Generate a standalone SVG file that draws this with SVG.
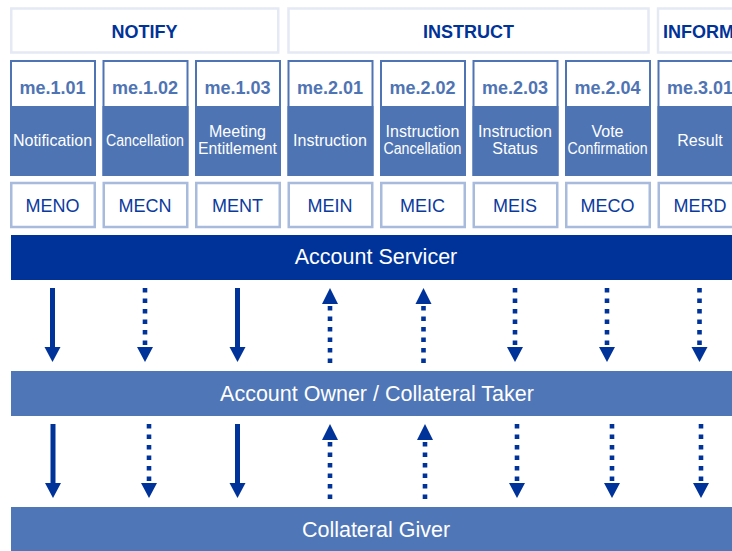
<svg xmlns="http://www.w3.org/2000/svg" width="732" height="551" viewBox="0 0 732 551">
<style>
.hdr{fill:#fff;stroke:#e4e9f4;stroke-width:2.5}
.hdrt{font-family:"Liberation Sans",Arial,sans-serif;font-size:18px;font-weight:bold;fill:#003399;text-anchor:middle}
.mebox{fill:#fff;stroke:#4f74b4;stroke-width:2}
.body{fill:#4e74b4}
.met{font-family:"Liberation Sans",Arial,sans-serif;font-size:18px;font-weight:bold;fill:#4f74b4;text-anchor:middle}
.bt{font-family:"Liberation Sans",Arial,sans-serif;font-size:16px;fill:#fff;text-anchor:middle}
.code{fill:#fff;stroke:#a8bbdc;stroke-width:2.5}
.ct{font-family:"Liberation Sans",Arial,sans-serif;font-size:18px;fill:#0a3a9e;text-anchor:middle}
.bar1{fill:#00339a}
.bar2{fill:#4f76b6}
.bart{font-family:"Liberation Sans",Arial,sans-serif;font-size:21.5px;fill:#fff;text-anchor:middle}
.sl{stroke:#003399;stroke-width:5}
.dl{stroke:#003399;stroke-width:4.6;stroke-dasharray:4.6 5.9}
.ah{fill:#003399}
</style>
<defs>
<g id="ds"><line class="sl" x1="0" y1="0" x2="0" y2="60"/><polygon class="ah" points="-8,59 8,59 0,74"/></g>
<g id="dd"><line class="dl" x1="0" y1="0" x2="0" y2="60"/><polygon class="ah" points="-8,59 8,59 0,74"/></g>
<g id="du"><polygon class="ah" points="-8,16 8,16 0,0"/><line class="dl" x1="0" y1="75" x2="0" y2="16"/></g>
</defs>

<g id="hdr-notify"><rect class="hdr" x="11.25" y="8.5" width="267" height="44"/><text class="hdrt" x="144.5" y="37.5">NOTIFY</text></g>
<g id="hdr-instruct"><rect class="hdr" x="288.5" y="8.5" width="360" height="44"/><text class="hdrt" x="468.5" y="37.5">INSTRUCT</text></g>
<g id="hdr-inform"><rect class="hdr" x="658" y="8.5" width="90" height="44"/><text class="hdrt" x="663" y="37.5" text-anchor="start" style="text-anchor:start">INFORM</text></g>

<g id="col-me101"><rect class="mebox" x="11" y="61" width="84" height="114"/><rect class="body" x="10" y="106" width="86" height="70"/><text class="met" x="52.5" y="94.3">me.1.01</text><text class="bt" x="52.5" y="146">Notification</text><rect class="code" x="11.25" y="183" width="83.5" height="44"/><text class="ct" x="52.5" y="211.5">MENO</text></g>
<g id="col-me102"><rect class="mebox" x="103.5" y="61" width="84" height="114"/><rect class="body" x="102.5" y="106" width="86" height="70"/><text class="met" x="145" y="94.3">me.1.02</text><text class="bt" x="145" y="146" textLength="78" lengthAdjust="spacingAndGlyphs">Cancellation</text><rect class="code" x="103.75" y="183" width="83.5" height="44"/><text class="ct" x="145" y="211.5">MECN</text></g>
<g id="col-me103"><rect class="mebox" x="196" y="61" width="84" height="114"/><rect class="body" x="195" y="106" width="86" height="70"/><text class="met" x="237.5" y="94.3">me.1.03</text><text class="bt" x="237.5" y="137">Meeting</text><text class="bt" x="237.5" y="154" textLength="79" lengthAdjust="spacingAndGlyphs">Entitlement</text><rect class="code" x="196.25" y="183" width="83.5" height="44"/><text class="ct" x="237.5" y="211.5">MENT</text></g>
<g id="col-me201"><rect class="mebox" x="288.5" y="61" width="84" height="114"/><rect class="body" x="287.5" y="106" width="86" height="70"/><text class="met" x="330" y="94.3">me.2.01</text><text class="bt" x="330" y="146">Instruction</text><rect class="code" x="288.75" y="183" width="83.5" height="44"/><text class="ct" x="330" y="211.5">MEIN</text></g>
<g id="col-me202"><rect class="mebox" x="381" y="61" width="84" height="114"/><rect class="body" x="380" y="106" width="86" height="70"/><text class="met" x="422.5" y="94.3">me.2.02</text><text class="bt" x="422.5" y="137">Instruction</text><text class="bt" x="422.5" y="154" textLength="78" lengthAdjust="spacingAndGlyphs">Cancellation</text><rect class="code" x="381.25" y="183" width="83.5" height="44"/><text class="ct" x="422.5" y="211.5">MEIC</text></g>
<g id="col-me203"><rect class="mebox" x="473.5" y="61" width="84" height="114"/><rect class="body" x="472.5" y="106" width="86" height="70"/><text class="met" x="515" y="94.3">me.2.03</text><text class="bt" x="515" y="137">Instruction</text><text class="bt" x="515" y="154">Status</text><rect class="code" x="473.75" y="183" width="83.5" height="44"/><text class="ct" x="515" y="211.5">MEIS</text></g>
<g id="col-me204"><rect class="mebox" x="566" y="61" width="84" height="114"/><rect class="body" x="565" y="106" width="86" height="70"/><text class="met" x="607.5" y="94.3">me.2.04</text><text class="bt" x="607.5" y="137">Vote</text><text class="bt" x="607.5" y="154" textLength="80" lengthAdjust="spacingAndGlyphs">Confirmation</text><rect class="code" x="566.25" y="183" width="83.5" height="44"/><text class="ct" x="607.5" y="211.5">MECO</text></g>
<g id="col-me301"><rect class="mebox" x="658.5" y="61" width="84" height="114"/><rect class="body" x="657.5" y="106" width="86" height="70"/><text class="met" x="700" y="94.3">me.3.01</text><text class="bt" x="700" y="146">Result</text><rect class="code" x="658.75" y="183" width="83.5" height="44"/><text class="ct" x="700" y="211.5">MERD</text></g>

<g id="account-servicer"><rect class="bar1" x="11" y="235" width="721" height="45"/><text class="bart" x="376" y="263.5">Account Servicer</text></g>
<g id="account-owner"><rect class="bar2" x="11" y="371" width="721" height="45"/><text class="bart" x="377" y="400.5">Account Owner / Collateral Taker</text></g>
<g id="collateral-giver"><rect class="bar2" x="11" y="507" width="721" height="44"/><text class="bart" x="376" y="536.5">Collateral Giver</text></g>

<g id="connectors">
<use href="#ds" x="52.5" y="288"/>
<use href="#dd" x="145" y="288"/>
<use href="#ds" x="237.5" y="288"/>
<use href="#du" x="330" y="288"/>
<use href="#du" x="423.5" y="288"/>
<use href="#dd" x="515" y="288"/>
<use href="#dd" x="607" y="288"/>
<use href="#dd" x="699.5" y="288"/>
<use href="#ds" x="53" y="424"/>
<use href="#dd" x="149" y="424"/>
<use href="#ds" x="237.5" y="424"/>
<use href="#du" x="330" y="424"/>
<use href="#du" x="425" y="424"/>
<use href="#dd" x="517" y="424"/>
<use href="#dd" x="612" y="424"/>
<use href="#dd" x="701" y="424"/>
</g>
</svg>
